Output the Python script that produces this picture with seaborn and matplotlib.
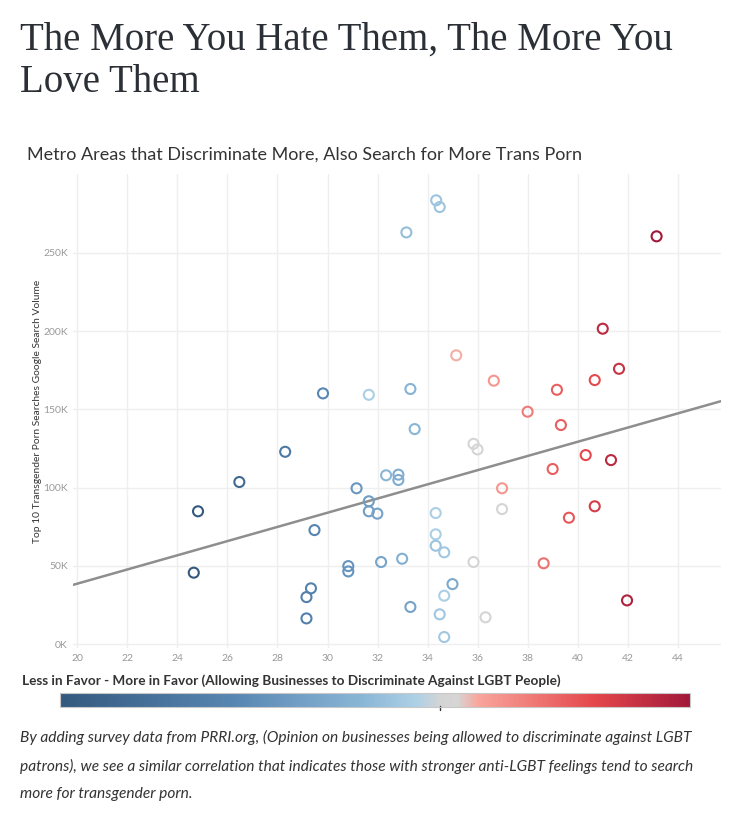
import matplotlib
matplotlib.use("Agg")
import matplotlib.pyplot as plt
import matplotlib.colors as mcolors
import matplotlib.ticker as mticker
import numpy as np
import pandas as pd
import seaborn as sns

# ---- data ----
favor_pct = [24.66, 24.83, 26.48, 28.31, 29.82, 29.48, 29.34, 29.16, 29.16,
             30.83, 30.83, 31.16, 31.65, 31.65, 31.65, 31.99, 32.14, 32.34,
             32.83, 32.83, 32.98, 33.15, 33.31, 33.31, 33.48, 34.32, 34.32,
             34.32, 34.34, 34.48, 34.48, 34.66, 34.66, 34.66, 34.99, 35.14,
             35.83, 35.99, 35.83, 36.31, 36.97, 36.97, 36.64, 37.99, 38.63,
             38.99, 39.16, 39.32, 39.64, 40.31, 40.67, 40.67, 40.99, 41.32,
             41.64, 41.96, 43.14]
search_volume = [45.7, 84.9, 103.6, 122.9, 160.2, 72.9, 35.7, 30.1, 16.5,
                 49.9, 46.5, 99.6, 91.3, 84.9, 159.3, 83.4, 52.5, 107.9,
                 108.3, 104.9, 54.6, 263.0, 163.0, 23.8, 137.4, 83.8, 70.2,
                 62.9, 283.5, 279.2, 19.1, 58.7, 31.0, 4.6, 38.4, 184.5,
                 128.0, 124.4, 52.5, 17.2, 86.3, 99.6, 168.3, 148.5, 51.7,
                 111.9, 162.5, 140.0, 80.8, 120.8, 168.7, 88.1, 201.5, 117.6,
                 175.9, 28.0, 260.5]  # thousands
colour_value = [24.66, 24.8, 26.5, 28.3, 29.8, 29.5, 29.34, 29.16, 29.16,
                30.83, 30.83, 31.16, 31.65, 31.65, 35.0, 31.99, 32.14, 33.5,
                32.8, 32.8, 33.0, 34.0, 33.3, 32.0, 33.5, 35.0, 35.0,
                34.3, 34.4, 34.4, 34.5, 34.6, 35.0, 34.6, 32.5, 36.8,
                36.0, 36.0, 36.0, 36.0, 36.2, 37.5, 37.5, 38.5, 38.8,
                39.5, 39.5, 39.5, 39.8, 40.3, 40.2, 41.0, 42.0, 42.0,
                41.5, 42.5, 43.1]

x_ticks = [20, 22, 24, 26, 28, 30, 32, 34, 36, 38, 40, 42, 44]
y_ticks = [0, 50000, 100000, 150000, 200000, 250000]
colour_min, colour_center, colour_max = 24.66, 35.8, 43.14

title_lines = ["The More You Hate Them, The More You", "Love Them"]
caption_lines = [
    "By adding survey data from PRRI.org, (Opinion on businesses being allowed to discriminate against LGBT",
    "patrons), we see a similar correlation that indicates those with stronger anti-LGBT feelings tend to search",
    "more for transgender porn.",
]

df = pd.DataFrame({
    "favor": favor_pct,
    "volume": np.array(search_volume) * 1000,
    "colour": colour_value,
})

# ---- style ----
sns.set_theme(style="white")
plt.rcParams["font.family"] = ["Lato", "DejaVu Sans"]

cmap = mcolors.LinearSegmentedColormap.from_list(
    "tab_rdbu",
    [(0.0, "#34597f"), (0.28, "#5887b3"), (0.48, "#8ab6d6"), (0.565, "#add0e6"),
     (0.605, "#d4d4d4"), (0.63, "#d6d6d6"), (0.665, "#f9a59b"), (0.85, "#e4474b"),
     (1.0, "#a2183a")])
norm = mcolors.Normalize(vmin=colour_min, vmax=colour_max)

fig = plt.figure(figsize=(7.35, 8.17), dpi=100)
ax = fig.add_axes([73.3 / 735, 1 - 648 / 817, (720.7 - 73.3) / 735, (648 - 174) / 817])

ax.set_xlim(19.85, 45.7)
ax.set_ylim(-2400, 300300)

sns.regplot(data=df, x="favor", y="volume", scatter=False, ci=None,
            truncate=False, ax=ax, color="#8e8e8e", line_kws={"lw": 1.8, "zorder": 3})

sns.scatterplot(data=df, x="favor", y="volume", hue="colour", palette=cmap,
                hue_norm=norm, legend=False, ax=ax, s=52, zorder=4)
coll = ax.collections[-1]
fc = coll.get_facecolors()
coll.set_edgecolors(fc)
coll.set_facecolors("none")
coll.set_linewidths(1.5)

ax.set_xticks(x_ticks)
ax.set_yticks(y_ticks)
ax.yaxis.set_major_formatter(mticker.FuncFormatter(lambda v, p: f"{int(v/1000)}K"))
ax.grid(True, color="#efefef", lw=1)
for s in ax.spines.values():
    s.set_visible(False)
ax.tick_params(axis="both", length=0, labelsize=7.5, labelcolor="#999999", pad=4)
ax.set_xlabel("")
ax.set_ylabel("Top 10 Transgender Porn Searches Google Search Volume",
              fontsize=7.4, color="#333333", labelpad=1)

# ---- texts ----
for line, ypx in zip(title_lines, [50, 92]):
    fig.text(20 / 735, 1 - ypx / 817, line,
             family=["Liberation Serif", "DejaVu Serif"], fontsize=28, color="#2b2f36",
             va="baseline", ha="left")
fig.text(27 / 735, 1 - 155 / 817,
         "Metro Areas that Discriminate More, Also Search for More Trans Porn",
         fontsize=13, color="#333333", va="center", ha="left")
fig.text(22 / 735, 1 - 681 / 817,
         "Less in Favor - More in Favor (Allowing Businesses to Discriminate Against LGBT People)",
         fontsize=9.8, weight="bold", color="#333333", va="center", ha="left")

cax = fig.add_axes([60 / 735, 1 - 707 / 817, 630 / 735, 14 / 817])
sm = matplotlib.cm.ScalarMappable(norm=norm, cmap=cmap)
cb = fig.colorbar(sm, cax=cax, orientation="horizontal")
cb.set_ticks([])
cb.outline.set_edgecolor("#c8c8c8")
cb.outline.set_linewidth(0.8)
cax.plot([colour_center, colour_center], [-0.2, 0.1], transform=cax.get_xaxis_transform(),
         color="#333333", lw=1, clip_on=False)

for line, ypx in zip(caption_lines, [737, 766, 794]):
    fig.text(20 / 735, 1 - ypx / 817, line, fontsize=11.2, style="italic",
             color="#333333", va="center", ha="left")

fig.savefig("out.png", dpi=100)
